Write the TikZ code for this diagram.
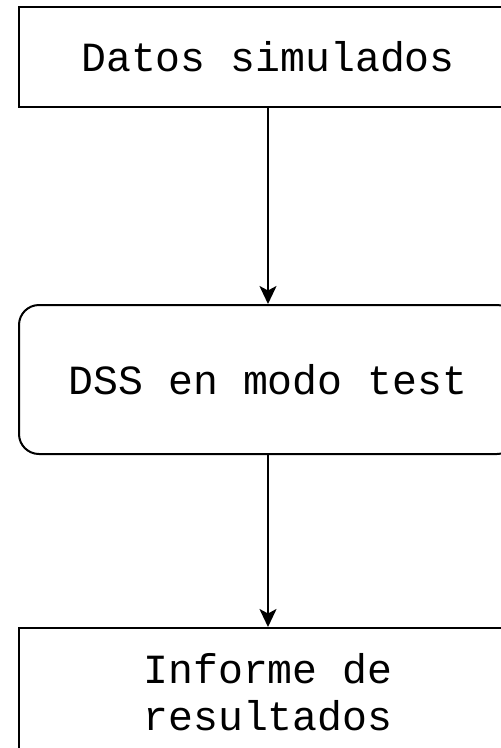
\documentclass[tikz,border=0pt]{standalone}
\usepackage{fontspec}
\newfontfamily\boxfont{Liberation Mono}
\usetikzlibrary{arrows.meta}
\begin{document}
\begin{tikzpicture}[x=1pt,y=-1pt,
  box/.style={draw=black, line width=2pt, fill=white, inner sep=0pt,
    minimum width=498pt, font=\boxfont\fontsize{41.5}{47}\selectfont},
  flow/.style={draw=black, line width=2.2pt,
    -{Stealth[length=18pt,width=17pt,inset=4.5pt]}}]
  \useasboundingbox (0,0) rectangle (501,748);
  \clip (0,0) rectangle (501,748);
  % processing chain
  \node[box, minimum height=100pt] (datos) at (268,57) {Datos simulados};
  \node[box, minimum height=149pt, rounded corners=20pt] (dss) at (268,379.5) {DSS en modo test};
  \node[box, minimum height=128pt, align=center] (informe) at (268,692) {Informe de\\resultados};
  \draw[flow] (datos) -- (dss);
  \draw[flow] (dss) -- (informe);
\end{tikzpicture}
\end{document}
